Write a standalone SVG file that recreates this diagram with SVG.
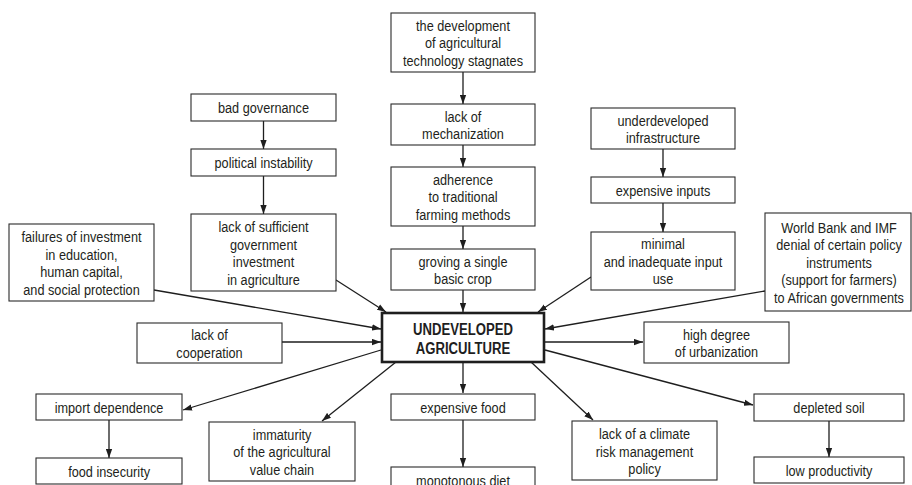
<svg xmlns="http://www.w3.org/2000/svg" width="912" height="485" viewBox="0 0 912 485">
  <defs>
    <marker id="arr" viewBox="0 0 10 7" refX="10" refY="3.5" markerWidth="9" markerHeight="7" markerUnits="userSpaceOnUse" orient="auto">
      <path d="M0,0 L10,3.5 L0,7 z" fill="#1e1e1e"/>
    </marker>
    <style>
      .box { fill: #ffffff; stroke: #2b2b2b; stroke-width: 1.1; }
      .main { fill: #ffffff; stroke: #1e1e1e; stroke-width: 2.6; }
      /* condensed sans: regular face squeezed horizontally about its own centre */
      .t, .tb { font-family: "Liberation Sans", Arial, sans-serif; text-anchor: middle;
                transform-box: fill-box; transform-origin: center; transform: scaleX(0.82); }
      .t { font-size: 15.5px; fill: #231f20; }
      .tb { font-size: 16px; font-weight: bold; fill: #1e1e1e; }
      .c { fill: none; stroke: #1e1e1e; stroke-width: 1.3; marker-end: url(#arr); }
    </style>
  </defs>
  <rect width="912" height="485" fill="#ffffff"/>

  <g id="connectors">
    <!-- central column -->
    <line class="c" x1="463" y1="72" x2="463" y2="104"/>
    <line class="c" x1="463" y1="145" x2="463" y2="167"/>
    <line class="c" x1="463" y1="226" x2="463" y2="249"/>
    <line class="c" x1="463" y1="290" x2="463" y2="312"/>
    <!-- left column -->
    <line class="c" x1="263.5" y1="121" x2="263.5" y2="149"/>
    <line class="c" x1="263.5" y1="176" x2="263.5" y2="214"/>
    <!-- right column -->
    <line class="c" x1="663" y1="149" x2="663" y2="177"/>
    <line class="c" x1="663" y1="203" x2="663" y2="232"/>
    <!-- causes into the core -->
    <line class="c" x1="336" y1="280" x2="386" y2="312"/>
    <line class="c" x1="591" y1="277" x2="538" y2="312"/>
    <line class="c" x1="154" y1="290" x2="381" y2="329"/>
    <line class="c" x1="282" y1="342" x2="381" y2="342"/>
    <line class="c" x1="765" y1="291" x2="545" y2="329"/>
    <!-- effects out of the core -->
    <line class="c" x1="545" y1="342" x2="643" y2="342"/>
    <line class="c" x1="545" y1="350" x2="753" y2="405"/>
    <line class="c" x1="531" y1="362" x2="593" y2="420"/>
    <line class="c" x1="463" y1="363" x2="463" y2="393"/>
    <line class="c" x1="396" y1="362" x2="322" y2="421"/>
    <line class="c" x1="381" y1="350" x2="183" y2="410"/>
    <!-- follow-on effects -->
    <line class="c" x1="109" y1="420" x2="109" y2="458"/>
    <line class="c" x1="463" y1="420" x2="463" y2="467"/>
    <line class="c" x1="829" y1="421" x2="829" y2="457"/>
  </g>

  <g id="tech-stagnation">
    <rect class="box" x="391" y="13" width="144" height="59"/>
    <text class="t" x="463" y="31">the development</text>
    <text class="t" x="463" y="48.5">of agricultural</text>
    <text class="t" x="463" y="66">technology stagnates</text>
  </g>
  <g id="mechanization">
    <rect class="box" x="391" y="104" width="144" height="41"/>
    <text class="t" x="463" y="122">lack of</text>
    <text class="t" x="463" y="139.5">mechanization</text>
  </g>
  <g id="traditional-methods">
    <rect class="box" x="391" y="167" width="144" height="59"/>
    <text class="t" x="463" y="185">adherence</text>
    <text class="t" x="463" y="202.5">to traditional</text>
    <text class="t" x="463" y="220">farming methods</text>
  </g>
  <g id="single-crop">
    <rect class="box" x="391" y="249" width="144" height="41"/>
    <text class="t" x="463" y="267">groving a single</text>
    <text class="t" x="463" y="284.5">basic crop</text>
  </g>

  <g id="bad-governance">
    <rect class="box" x="191" y="94" width="145" height="27"/>
    <text class="t" x="263.5" y="113.5">bad governance</text>
  </g>
  <g id="political-instability">
    <rect class="box" x="191" y="149" width="145" height="27"/>
    <text class="t" x="263.5" y="168.5">political instability</text>
  </g>
  <g id="government-investment">
    <rect class="box" x="191" y="214" width="145" height="77"/>
    <text class="t" x="263.5" y="232.5">lack of sufficient</text>
    <text class="t" x="263.5" y="250">government</text>
    <text class="t" x="263.5" y="267.5">investment</text>
    <text class="t" x="263.5" y="285">in agriculture</text>
  </g>

  <g id="infrastructure">
    <rect class="box" x="591" y="108" width="144" height="41"/>
    <text class="t" x="663" y="126">underdeveloped</text>
    <text class="t" x="663" y="143.5">infrastructure</text>
  </g>
  <g id="expensive-inputs">
    <rect class="box" x="591" y="177" width="144" height="26"/>
    <text class="t" x="663" y="196">expensive inputs</text>
  </g>
  <g id="input-use">
    <rect class="box" x="591" y="232" width="144" height="58"/>
    <text class="t" x="663" y="249.5">minimal</text>
    <text class="t" x="663" y="267">and inadequate input</text>
    <text class="t" x="663" y="284.5">use</text>
  </g>

  <g id="world-bank-imf">
    <rect class="box" x="765" y="213" width="146" height="98"/>
    <text class="t" x="839" y="233">World Bank and IMF</text>
    <text class="t" x="839" y="250.5">denial of certain policy</text>
    <text class="t" x="839" y="268">instruments</text>
    <text class="t" x="839" y="285.5">(support for farmers)</text>
    <text class="t" x="839" y="303">to African governments</text>
  </g>

  <g id="human-capital">
    <rect class="box" x="9" y="224" width="145" height="77"/>
    <text class="t" x="81.5" y="242.5">failures of investment</text>
    <text class="t" x="81.5" y="260">in education,</text>
    <text class="t" x="81.5" y="277.5">human capital,</text>
    <text class="t" x="81.5" y="295">and social protection</text>
  </g>
  <g id="cooperation">
    <rect class="box" x="137" y="323" width="145" height="40"/>
    <text class="t" x="209.5" y="340.5">lack of</text>
    <text class="t" x="209.5" y="358">cooperation</text>
  </g>

  <g id="undeveloped-agriculture">
    <rect class="main" x="382" y="313" width="162" height="49"/>
    <text class="tb" x="463" y="335">UNDEVELOPED</text>
    <text class="tb" x="463" y="354">AGRICULTURE</text>
  </g>

  <g id="urbanization">
    <rect class="box" x="644" y="322" width="145" height="41"/>
    <text class="t" x="716.5" y="340">high degree</text>
    <text class="t" x="716.5" y="357.5">of urbanization</text>
  </g>

  <g id="import-dependence">
    <rect class="box" x="36" y="394" width="146" height="26"/>
    <text class="t" x="109" y="413">import dependence</text>
  </g>
  <g id="food-insecurity">
    <rect class="box" x="36" y="458" width="146" height="26"/>
    <text class="t" x="109" y="477">food insecurity</text>
  </g>
  <g id="value-chain">
    <rect class="box" x="209" y="422" width="146" height="59"/>
    <text class="t" x="282" y="440">immaturity</text>
    <text class="t" x="282" y="457.5">of the agricultural</text>
    <text class="t" x="282" y="475">value chain</text>
  </g>
  <g id="expensive-food">
    <rect class="box" x="391" y="394" width="144" height="26"/>
    <text class="t" x="463" y="413">expensive food</text>
  </g>
  <g id="monotonous-diet">
    <rect class="box" x="391" y="467" width="144" height="28"/>
    <text class="t" x="463" y="486.5">monotonous diet</text>
  </g>
  <g id="climate-risk">
    <rect class="box" x="572" y="421" width="145" height="59"/>
    <text class="t" x="644.5" y="439.5">lack of a climate</text>
    <text class="t" x="644.5" y="457">risk management</text>
    <text class="t" x="644.5" y="474.5">policy</text>
  </g>
  <g id="depleted-soil">
    <rect class="box" x="754" y="394" width="150" height="27"/>
    <text class="t" x="829" y="413.5">depleted soil</text>
  </g>
  <g id="low-productivity">
    <rect class="box" x="754" y="457" width="150" height="26"/>
    <text class="t" x="829" y="476">low productivity</text>
  </g>
</svg>
